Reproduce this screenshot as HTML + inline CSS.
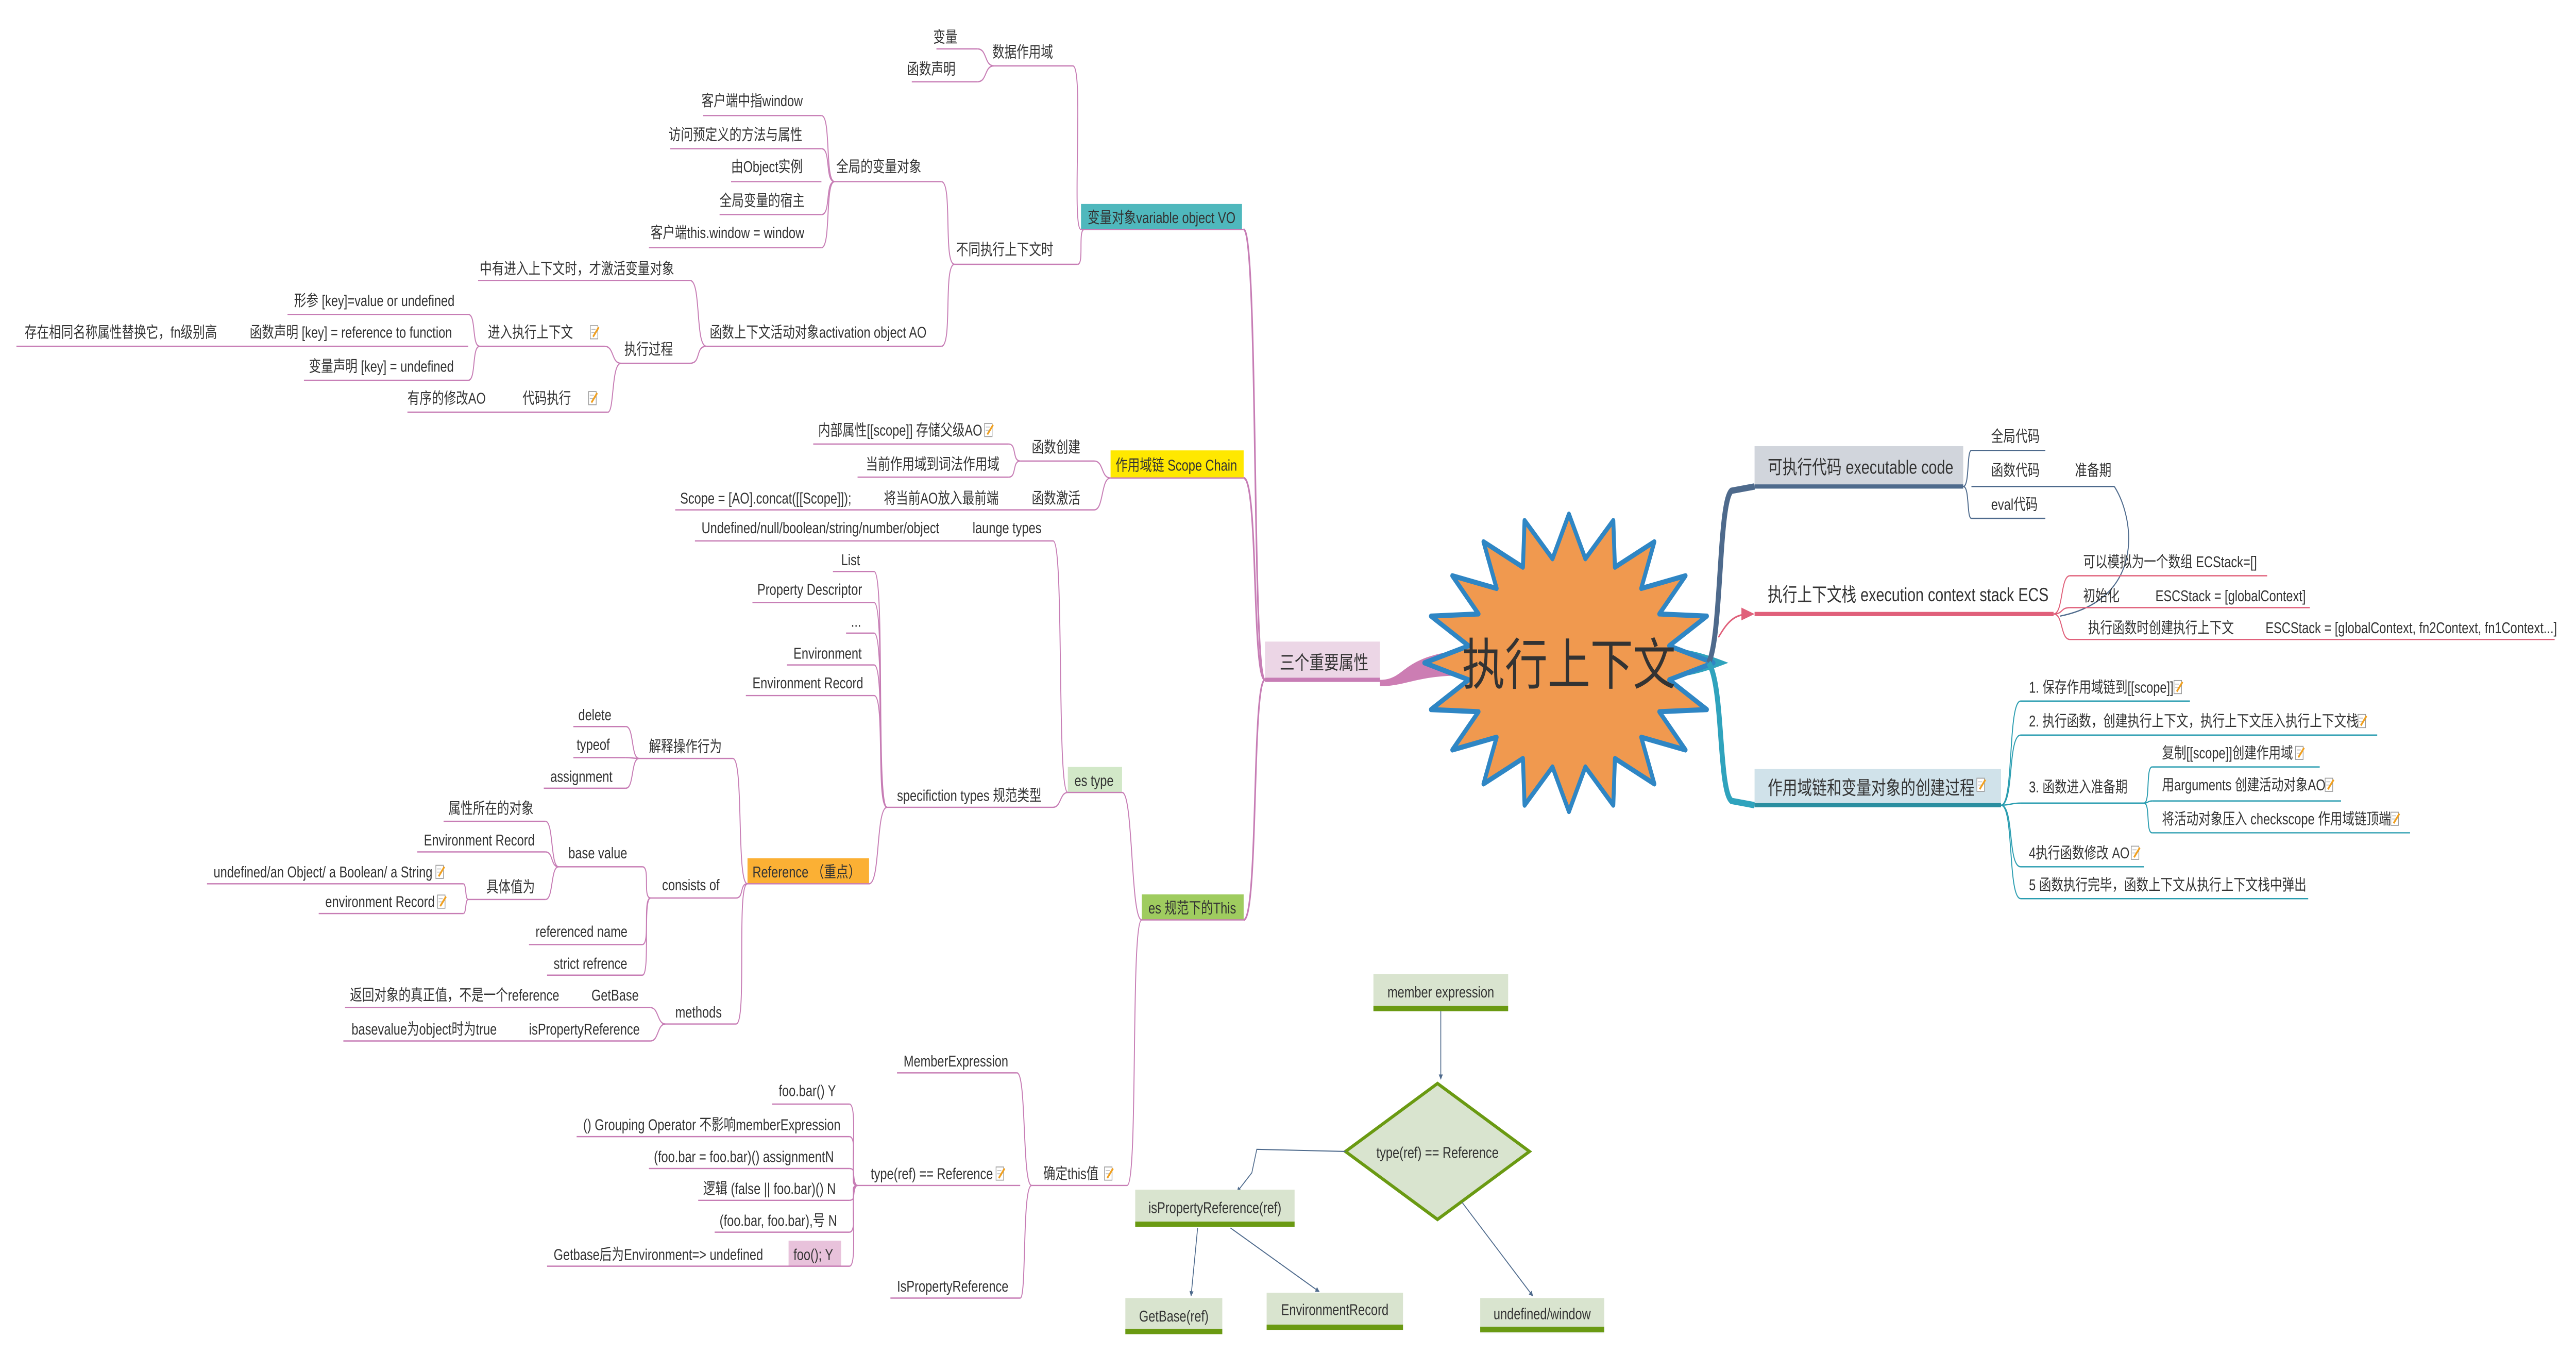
<!DOCTYPE html>
<html><head><meta charset="utf-8"><style>
html,body{margin:0;padding:0;background:#fff;overflow:hidden;width:100%;height:100%;}
svg{display:block;width:100vw;height:100vh;}
text{font-family:"Liberation Sans","Noto Sans CJK SC",sans-serif;fill:#333;font-size:7.4px;}
.b{font-size:9px;}
.p{stroke:#c77db5;stroke-width:0.6;fill:none;}
.s{stroke:#4e6a8c;stroke-width:0.6;fill:none;}
.r{stroke:#e0607a;stroke-width:0.6;fill:none;}
.t{stroke:#2a9db0;stroke-width:0.6;fill:none;}
.a{stroke:#4e6a8c;stroke-width:0.5;fill:none;}
</style></head><body>
<svg viewBox="0 0 1568 637.8" preserveAspectRatio="none" xmlns="http://www.w3.org/2000/svg">
<defs>
<symbol id="ic" viewBox="0 0 6 7"><rect x="0.3" y="0.3" width="4.6" height="6.2" fill="#fff" stroke="#999" stroke-width="0.4"/><line x1="1" y1="2" x2="3.5" y2="2" stroke="#bbb" stroke-width="0.4"/><line x1="1" y1="3.5" x2="3.5" y2="3.5" stroke="#bbb" stroke-width="0.4"/><line x1="2" y1="5.5" x2="5.5" y2="1" stroke="#f0a020" stroke-width="1"/></symbol>
<marker id="ar" viewBox="0 0 10 10" refX="9" refY="5" markerWidth="5" markerHeight="5" orient="auto"><path d="M0,0 L10,5 L0,10 z" fill="#4e6a8c"/></marker>
</defs>

<path d="M840,320 C856,320 852,309 890,306 L890,318 C862,318 856,323 840,323 Z" fill="#cc7db3"/>
<path d="M1020,305 C1035,307 1042,309 1052,312 C1042,315 1035,317 1020,319 Z" fill="#2fa3bd"/>
<polygon points="1043,312 1016,304 1039,290 1010,289 1026,271 999,277 1007,255 983,267 982,245 965,263 955,242 945,263 928,245 927,267 903,255 911,277 884,271 900,289 871,290 894,304 867,312 894,320 871,334 900,335 884,353 911,347 903,369 927,357 928,379 945,361 955,382 965,361 982,379 983,357 1007,369 999,347 1026,353 1010,335 1039,334 1016,320" fill="#f0994f" stroke="#2f86c4" stroke-width="2.4" stroke-linejoin="round"/>
<text x="955" y="322" text-anchor="middle" style="font-size:26px">执行上下文</text>

<path d="M1040,312 C1048,300 1046,236 1054,231 L1068,229" stroke="#4e6a8c" stroke-width="3" fill="none"/>
<path d="M1040,312 C1049,322 1046,372 1054,377 L1068,379" stroke="#2fa3bd" stroke-width="3" fill="none"/>
<path d="M1046,300 C1052,292 1056,289 1066,289" stroke="#e0607a" stroke-width="0.8" fill="none"/>
<polygon points="1060,286 1068,289 1060,292" fill="#e0607a"/>

<rect x="1068" y="210" width="127" height="18" fill="#d1d5dc"/>
<line x1="1068" y1="229" x2="1195" y2="229" stroke="#4e6a8c" stroke-width="2"/>
<text class="b" x="1076" y="223">可执行代码 executable code</text>
<line class="s" x1="1200" y1="212" x2="1245" y2="212"/><text x="1212" y="208">全局代码</text>
<line class="s" x1="1200" y1="229" x2="1287" y2="229"/><text x="1212" y="224">函数代码</text><text x="1263" y="224">准备期</text>
<line class="s" x1="1200" y1="244" x2="1245" y2="244"/><text x="1212" y="240">eval代码</text>
<path class="s" d="M1195,229 C1199,229 1197,212 1200,212"/>
<path class="s" d="M1195,229 C1199,229 1197,244 1200,244"/>
<path class="s" d="M1287,229 C1300,245 1305,282 1254,290"/>

<text class="b" x="1076" y="283">执行上下文栈 execution context stack ECS</text>
<line x1="1068" y1="289" x2="1250" y2="289" stroke="#e0607a" stroke-width="2"/>
<line class="r" x1="1260" y1="271" x2="1380" y2="271"/><text x="1268" y="267">可以模拟为一个数组 ECStack=[]</text>
<line class="r" x1="1260" y1="286" x2="1406" y2="286"/><text x="1268" y="283">初始化</text><text x="1312" y="283">ESCStack = [globalContext]</text>
<line class="r" x1="1260" y1="301" x2="1555" y2="301"/><text x="1271" y="298">执行函数时创建执行上下文</text><text x="1379" y="298">ESCStack = [globalContext, fn2Context, fn1Context...]</text>
<path class="r" d="M1250,289 C1256,289 1254,271 1260,271"/>
<path class="r" d="M1250,289 C1256,289 1254,286 1260,286"/>
<path class="r" d="M1250,289 C1256,289 1254,301 1260,301"/>

<rect x="1068" y="362" width="150" height="16" fill="#d0e2ea"/>
<line x1="1068" y1="379" x2="1218" y2="379" stroke="#2a8ea0" stroke-width="2"/>
<text class="b" x="1076" y="374">作用域链和变量对象的创建过程</text><use href="#ic" x="1203" y="366" width="6" height="7"/>
<line class="t" x1="1230" y1="330" x2="1333" y2="330"/><text x="1235" y="326">1. 保存作用域链到[[scope]]</text><use href="#ic" x="1323" y="320" width="6" height="7"/>
<line class="t" x1="1230" y1="346" x2="1447" y2="346"/><text x="1235" y="342">2. 执行函数，创建执行上下文，执行上下文压入执行上下文栈</text><use href="#ic" x="1435" y="336" width="6" height="7"/>
<line class="t" x1="1230" y1="378" x2="1305" y2="378"/><text x="1235" y="373">3. 函数进入准备期</text>
<line class="t" x1="1310" y1="361" x2="1412" y2="361"/><text x="1316" y="357">复制[[scope]]创建作用域</text><use href="#ic" x="1397" y="351" width="6" height="7"/>
<line class="t" x1="1310" y1="377" x2="1425" y2="377"/><text x="1316" y="372">用arguments 创建活动对象AO</text><use href="#ic" x="1415" y="366" width="6" height="7"/>
<line class="t" x1="1310" y1="392" x2="1467" y2="392"/><text x="1316" y="388">将活动对象压入 checkscope 作用域链顶端</text><use href="#ic" x="1455" y="382" width="6" height="7"/>
<line class="t" x1="1230" y1="408" x2="1305" y2="408"/><text x="1235" y="404">4执行函数修改 AO</text><use href="#ic" x="1297" y="398" width="6" height="7"/>
<line class="t" x1="1230" y1="423" x2="1405" y2="423"/><text x="1235" y="419">5 函数执行完毕，函数上下文从执行上下文栈中弹出</text>
<path class="t" d="M1218,379 C1226,379 1222,330 1230,330"/>
<path class="t" d="M1218,379 C1226,379 1222,346 1230,346"/>
<path class="t" d="M1218,379 C1224,379 1224,378 1230,378"/>
<path class="t" d="M1218,379 C1226,379 1222,408 1230,408"/>
<path class="t" d="M1218,379 C1226,379 1222,423 1230,423"/>
<path class="t" d="M1305,378 C1309,378 1306,361 1310,361"/>
<path class="t" d="M1305,378 C1308,378 1307,377 1310,377"/>
<path class="t" d="M1305,378 C1309,378 1306,392 1310,392"/>

<rect x="770" y="302" width="70" height="17" fill="#ecd6e6"/>
<line x1="770" y1="320" x2="840" y2="320" stroke="#c77db5" stroke-width="2"/>
<text class="b" x="779" y="315">三个重要属性</text>
<path d="M770,320 C762,320 766,108 757,108" stroke="#c77db5" stroke-width="1" fill="none"/>
<path d="M770,320 C762,320 766,225 757,225" stroke="#c77db5" stroke-width="1" fill="none"/>
<path d="M770,320 C762,320 766,433 757,433" stroke="#c77db5" stroke-width="1" fill="none"/>

<rect x="658" y="96" width="98" height="12" fill="#4fb8bd"/>
<line class="p" x1="658" y1="108" x2="757" y2="108"/>
<text x="662" y="105">变量对象variable object VO</text>
<line class="p" x1="570" y1="23" x2="595" y2="23"/><text x="568" y="20">变量</text>
<line class="p" x1="555" y1="38.5" x2="595" y2="38.5"/><text x="552" y="35">函数声明</text>
<line class="p" x1="605" y1="31" x2="653" y2="31"/><text x="604" y="27">数据作用域</text>
<path class="p" d="M605,31 C599,31 601,23 595,23"/><path class="p" d="M605,31 C599,31 601,38.5 595,38.5"/>
<path class="p" d="M653,31 C660,31 652,108 658,108"/>
<line class="p" x1="508" y1="85.5" x2="573" y2="85.5"/><text x="509" y="81">全局的变量对象</text>
<line class="p" x1="428" y1="54.4" x2="500" y2="54.4"/><text x="427" y="50">客户端中指window</text>
<line class="p" x1="408" y1="70" x2="500" y2="70"/><text x="407" y="66">访问预定义的方法与属性</text>
<line class="p" x1="445" y1="85.5" x2="500" y2="85.5"/><text x="445" y="81">由Object实例</text>
<line class="p" x1="438" y1="101" x2="500" y2="101"/><text x="438" y="97">全局变量的宿主</text>
<line class="p" x1="395" y1="116.6" x2="500" y2="116.6"/><text x="396" y="112">客户端this.window = window</text>
<path class="p" d="M508,85.5 C502,85.5 506,54.4 500,54.4"/><path class="p" d="M508,85.5 C502,85.5 506,70 500,70"/><path class="p" d="M508,85.5 C502,85.5 506,101 500,101"/><path class="p" d="M508,85.5 C502,85.5 506,116.6 500,116.6"/>
<line class="p" x1="581" y1="124.4" x2="656" y2="124.4"/><text x="582" y="120">不同执行上下文时</text>
<path class="p" d="M656,124.4 C660,124.4 656,108 660,108"/>
<path class="p" d="M581,124.4 C574,124.4 580,85.5 573,85.5"/><path class="p" d="M581,124.4 C574,124.4 580,163 573,163"/>
<line class="p" x1="430" y1="163" x2="573" y2="163"/><text x="432" y="159">函数上下文活动对象activation object AO</text>
<line class="p" x1="291" y1="132" x2="420" y2="132"/><text x="292" y="129">中有进入上下文时，才激活变量对象</text>
<line class="p" x1="378" y1="171" x2="420" y2="171"/><text x="380" y="167">执行过程</text>
<path class="p" d="M430,163 C423,163 427,132 420,132"/><path class="p" d="M430,163 C423,163 427,171 420,171"/>
<line class="p" x1="292" y1="163" x2="368" y2="163"/><text x="297" y="159">进入执行上下文</text><use href="#ic" x="359" y="153" width="6" height="7"/>
<line class="p" x1="248" y1="194" x2="370" y2="194"/><text x="318" y="190">代码执行</text><use href="#ic" x="358" y="184" width="6" height="7"/><text x="248" y="190">有序的修改AO</text>
<path class="p" d="M378,171 C372,171 374,163 368,163"/><path class="p" d="M378,171 C372,171 374,194 370,194"/>
<line class="p" x1="175" y1="148" x2="285" y2="148"/><text x="179" y="144">形参 [key]=value or undefined</text>
<line class="p" x1="10" y1="163" x2="285" y2="163"/><text x="152" y="159">函数声明 [key] = reference to  function</text><text x="15" y="159">存在相同名称属性替换它，fn级别高</text>
<line class="p" x1="185" y1="179" x2="285" y2="179"/><text x="188" y="175">变量声明 [key] = undefined</text>
<path class="p" d="M292,163 C287,163 290,148 285,148"/><path class="p" d="M292,163 C287,163 290,179 285,179"/>

<rect x="676" y="212" width="81" height="13" fill="#ffe800"/>
<line class="p" x1="676" y1="225" x2="757" y2="225"/>
<text x="679" y="221.5">作用域链 Scope Chain</text>
<line class="p" x1="621" y1="217" x2="666" y2="217"/><text x="628" y="213">函数创建</text>
<line class="p" x1="495" y1="209" x2="614" y2="209"/><text x="498" y="205">内部属性[[scope]] 存储父级AO</text><use href="#ic" x="599" y="199" width="6" height="7"/>
<line class="p" x1="522" y1="224.6" x2="614" y2="224.6"/><text x="527" y="221">当前作用域到词法作用域</text>
<line class="p" x1="411" y1="240" x2="666" y2="240"/><text x="628" y="237">函数激活</text><text x="538" y="237">将当前AO放入最前端</text><text x="414" y="237">Scope = [AO].concat([[Scope]]);</text>
<path class="p" d="M676,225 C670,225 672,217 666,217"/><path class="p" d="M676,225 C670,225 672,240 666,240"/>
<path class="p" d="M621,217 C616,217 619,209 614,209"/><path class="p" d="M621,217 C616,217 619,224.6 614,224.6"/>

<rect x="695" y="421" width="62" height="12" fill="#9fcc5f"/>
<line class="p" x1="695" y1="433" x2="757" y2="433"/>
<text x="699" y="430">es 规范下的This</text>
<rect x="650" y="361" width="33" height="12" fill="#d2e8c8"/>
<line class="p" x1="650" y1="373" x2="683" y2="373"/>
<text x="654" y="370">es type</text>
<path class="p" d="M695,433 C688,433 690,373 683,373"/>
<line class="p" x1="423" y1="254.6" x2="641" y2="254.6"/><text x="592" y="251">launge types</text><text x="427" y="251">Undefined/null/boolean/string/number/object</text>
<line class="p" x1="540" y1="380" x2="641" y2="380"/><text x="546" y="377">specifiction types 规范类型</text>
<path class="p" d="M650,373 C643,373 648,254.6 641,254.6"/><path class="p" d="M650,373 C645,373 646,380 641,380"/>
<line class="p" x1="507" y1="269" x2="532" y2="269"/><text x="512" y="266">List</text>
<line class="p" x1="458" y1="283.6" x2="532" y2="283.6"/><text x="461" y="280">Property Descriptor</text>
<line class="p" x1="515" y1="298" x2="532" y2="298"/><text x="518" y="295">...</text>
<line class="p" x1="479" y1="313" x2="532" y2="313"/><text x="483" y="310">Environment</text>
<line class="p" x1="454" y1="327.4" x2="532" y2="327.4"/><text x="458" y="324">Environment Record</text>
<path class="p" d="M540,380 C533,380 539,269 532,269"/><path class="p" d="M540,380 C533,380 539,283.6 532,283.6"/><path class="p" d="M540,380 C533,380 539,298 532,298"/><path class="p" d="M540,380 C533,380 539,313 532,313"/><path class="p" d="M540,380 C533,380 539,327.4 532,327.4"/>
<rect x="455" y="404" width="74" height="12" fill="#fbb034"/>
<line class="p" x1="455" y1="416" x2="529" y2="416"/>
<text x="458" y="413">Reference （重点）</text>
<path class="p" d="M540,380 C533,380 536,416 529,416"/>
<line class="p" x1="389" y1="357" x2="446" y2="357"/><text x="395" y="354">解释操作行为</text>
<line class="p" x1="349" y1="342" x2="381" y2="342"/><text x="352" y="339">delete</text>
<line class="p" x1="349" y1="356.6" x2="381" y2="356.6"/><text x="351" y="353">typeof</text>
<line class="p" x1="331" y1="371" x2="381" y2="371"/><text x="335" y="368">assignment</text>
<path class="p" d="M389,357 C384,357 386,342 381,342"/><path class="p" d="M389,357 C385,357 385,356.6 381,356.6"/><path class="p" d="M389,357 C384,357 386,371 381,371"/>
<line class="p" x1="396" y1="422.7" x2="448" y2="422.7"/><text x="403" y="419">consists of</text>
<line class="p" x1="340" y1="408" x2="391" y2="408"/><text x="346" y="404">base value</text>
<line class="p" x1="270" y1="386.6" x2="332" y2="386.6"/><text x="273" y="383">属性所在的对象</text>
<line class="p" x1="254" y1="401" x2="332" y2="401"/><text x="258" y="398">Environment Record</text>
<line class="p" x1="285" y1="423.4" x2="332" y2="423.4"/><text x="296" y="420">具体值为</text>
<line class="p" x1="126" y1="416" x2="282" y2="416"/><text x="130" y="413">undefined/an Object/ a Boolean/ a String</text><use href="#ic" x="265" y="407" width="6" height="7"/>
<line class="p" x1="194" y1="430" x2="282" y2="430"/><text x="198" y="427">environment Record</text><use href="#ic" x="266" y="421" width="6" height="7"/>
<line class="p" x1="322" y1="444.6" x2="391" y2="444.6"/><text x="326" y="441">referenced name</text>
<line class="p" x1="333" y1="459" x2="391" y2="459"/><text x="337" y="456">strict refrence</text>
<line class="p" x1="405" y1="482" x2="448" y2="482"/><text x="411" y="479">methods</text>
<line class="p" x1="210" y1="474.3" x2="396" y2="474.3"/><text x="360" y="471">GetBase</text><text x="213" y="471">返回对象的真正值，不是一个reference</text>
<line class="p" x1="209" y1="490" x2="396" y2="490"/><text x="322" y="487">isPropertyReference</text><text x="214" y="487">basevalue为object时为true</text>
<path class="p" d="M455,416 C448,416 453,357 446,357"/><path class="p" d="M455,416 C450,416 453,422.7 448,422.7"/><path class="p" d="M455,416 C448,416 455,482 448,482"/>
<path class="p" d="M396,422.7 C391,422.7 396,408 391,408"/><path class="p" d="M396,422.7 C391,422.7 396,444.6 391,444.6"/><path class="p" d="M396,422.7 C391,422.7 396,459 391,459"/>
<path class="p" d="M340,408 C335,408 337,386.6 332,386.6"/><path class="p" d="M340,408 C335,408 337,401 332,401"/><path class="p" d="M340,408 C335,408 337,423.4 332,423.4"/>
<path class="p" d="M285,423.4 C283,423.4 284,416 282,416"/><path class="p" d="M285,423.4 C283,423.4 284,430 282,430"/>
<path class="p" d="M405,482 C400,482 401,474.3 396,474.3"/><path class="p" d="M405,482 C400,482 401,490 396,490"/>

<line class="p" x1="628" y1="558" x2="686" y2="558"/><text x="635" y="555">确定this值</text><use href="#ic" x="672" y="549" width="6" height="7"/>
<path class="p" d="M695,433 C688,433 693,558 686,558"/>
<line class="p" x1="546" y1="505" x2="619" y2="505"/><text x="550" y="502">MemberExpression</text>
<line class="p" x1="522" y1="558" x2="621" y2="558"/><text x="530" y="555">type(ref) == Reference</text><use href="#ic" x="606" y="549" width="6" height="7"/>
<line class="p" x1="542" y1="611" x2="621" y2="611"/><text x="546" y="608">IsPropertyReference</text>
<path class="p" d="M628,558 C622,558 625,505 619,505"/><path class="p" d="M628,558 C622,558 625,611 621,611"/>
<line class="p" x1="470" y1="519.7" x2="517" y2="519.7"/><text x="474" y="516">foo.bar() Y</text>
<line class="p" x1="351" y1="535" x2="517" y2="535"/><text x="355" y="532">() Grouping Operator 不影响memberExpression</text>
<line class="p" x1="395" y1="550" x2="517" y2="550"/><text x="398" y="547">(foo.bar = foo.bar)() assignmentN</text>
<line class="p" x1="425" y1="565" x2="517" y2="565"/><text x="428" y="562">逻辑 (false || foo.bar)() N</text>
<line class="p" x1="435" y1="580" x2="517" y2="580"/><text x="438" y="577">(foo.bar, foo.bar),号 N</text>
<rect x="480" y="584" width="32" height="12" fill="#e8c2db"/>
<line class="p" x1="333" y1="596" x2="517" y2="596"/><text x="483" y="593">foo(); Y</text><text x="337" y="593">Getbase后为Environment=&gt; undefined</text>
<path class="p" d="M522,558 C516,558 523,519.7 517,519.7"/><path class="p" d="M522,558 C516,558 523,535 517,535"/><path class="p" d="M522,558 C516,558 523,550 517,550"/><path class="p" d="M522,558 C516,558 523,565 517,565"/><path class="p" d="M522,558 C516,558 523,580 517,580"/><path class="p" d="M522,558 C516,558 523,596 517,596"/>

<rect x="836" y="458.5" width="82" height="17.5" fill="#d9e4cf"/>
<rect x="836" y="473.5" width="82" height="2.5" fill="#6a9a12"/>
<text x="877" y="469.5" text-anchor="middle">member expression</text>
<line class="a" x1="877" y1="476" x2="877" y2="508" marker-end="url(#ar)"/>
<polygon points="875,510 931,542 875,574 819,542" fill="#d9e4cf" stroke="#6a9a12" stroke-width="1.6"/>
<text x="875" y="545" text-anchor="middle">type(ref) == Reference</text>
<path class="a" d="M819,542 L765,541 L762,552 L753,561" marker-end="url(#ar)"/>
<rect x="691" y="560" width="97" height="17.5" fill="#d9e4cf"/>
<rect x="691" y="575" width="97" height="2.5" fill="#6a9a12"/>
<text x="739.5" y="571" text-anchor="middle">isPropertyReference(ref)</text>
<line class="a" x1="729" y1="578" x2="725" y2="610" marker-end="url(#ar)"/>
<line class="a" x1="749" y1="578" x2="803" y2="608" marker-end="url(#ar)"/>
<line class="a" x1="890" y1="566" x2="933" y2="610" marker-end="url(#ar)"/>
<rect x="685" y="611" width="59" height="17" fill="#d9e4cf"/>
<rect x="685" y="625.5" width="59" height="2.5" fill="#6a9a12"/>
<text x="714.5" y="622" text-anchor="middle">GetBase(ref)</text>
<rect x="771" y="608.5" width="83" height="17.5" fill="#d9e4cf"/>
<rect x="771" y="623.5" width="83" height="2.5" fill="#6a9a12"/>
<text x="812.5" y="619" text-anchor="middle">EnvironmentRecord</text>
<rect x="901" y="611" width="75.5" height="16.5" fill="#d9e4cf"/>
<rect x="901" y="624.5" width="75.5" height="2.5" fill="#6a9a12"/>
<text x="938.7" y="621" text-anchor="middle">undefined/window</text>
</svg>
</body></html>
